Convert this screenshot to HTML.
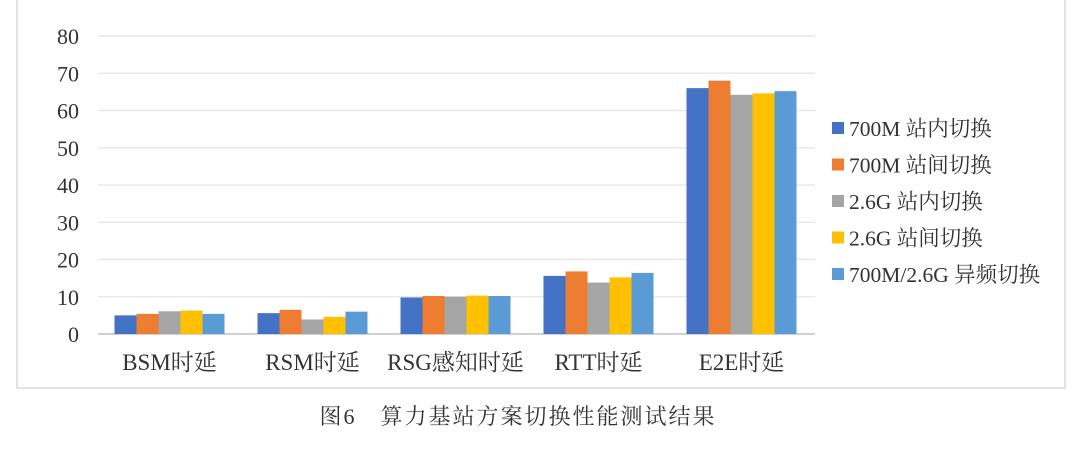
<!DOCTYPE html>
<html><head><meta charset="utf-8"><style>
body{margin:0;background:#fff;width:1080px;height:444px;overflow:hidden;font-family:"Liberation Serif","Noto Serif CJK SC",serif}
</style></head><body>
<svg width="1080" height="444" xmlns="http://www.w3.org/2000/svg">
<rect x="17" y="-2" width="1048" height="390" fill="#fff" stroke="#d9d9d9" stroke-width="1.5"/>
<g id="grid"></g><g id="bars"></g><g id="labels"></g><g id="legend"></g>
<text x="518" y="424" text-anchor="middle" font-size="22" letter-spacing="2" fill="#333" font-family="Liberation Serif, Noto Serif CJK SC, serif">图6　算力基站方案切换性能测试结果</text>
</svg>
<script>
const categories=["BSM时延","RSM时延","RSG感知时延","RTT时延","E2E时延"];
const seriesNames=["700M 站内切换","700M 站间切换","2.6G 站内切换","2.6G 站间切换","700M/2.6G 异频切换"];
const s1=[5.0,5.6,9.8,15.6,66.0];
const s2=[5.4,6.5,10.2,16.8,68.0];
const s3=[6.1,3.9,10.0,13.8,64.2];
const s4=[6.3,4.6,10.3,15.2,64.6];
const s5=[5.4,6.0,10.2,16.4,65.2];
const yTicks=[0,10,20,30,40,50,60,70,80];
const colors=["#4472c4","#ed7d31","#a5a5a5","#ffc000","#5b9bd5"];
const series=[s1,s2,s3,s4,s5];
const NS="http://www.w3.org/2000/svg";
const x0=98,x1=813,y0=334,yTop=36;
const y=v=>y0-(v/80)*(y0-yTop);
const bandW=(x1-x0)/categories.length, barW=22;
function mk(t,a,p){const e=document.createElementNS(NS,t);for(const k in a)e.setAttribute(k,a[k]);p.appendChild(e);return e;}
const G=document.getElementById('grid'),B=document.getElementById('bars'),L=document.getElementById('labels'),LG=document.getElementById('legend');
yTicks.forEach(t=>{
 const l=mk('line',{x1:x0,x2:x1+2,y1:y(t),y2:y(t),stroke:t===0?'#d0d0d0':'#e4e4e4','stroke-width':t===0?2:1.3},G);
 
 
 const tx=mk('text',{x:79,y:y(t)+8,'text-anchor':'end','font-size':22,fill:'#333'},G);
 tx.textContent=t;
 
 
});
categories.forEach((c,i)=>{
 const cx=x0+bandW*(i+0.5);
 series.forEach((s,j)=>{
  const r=mk('rect',{x:cx-barW*2.5+j*barW,y:y(s[i]),width:barW,height:y0-y(s[i]),fill:colors[j]},B);
  
  
 });
 const t=mk('text',{x:cx,y:370,'text-anchor':'middle','font-size':23,fill:'#333'},L);
 t.textContent=c;
 
 
});
seriesNames.forEach((n,j)=>{
 const yy=128+j*36.5;
 const r=mk('rect',{x:832,y:yy-6,width:12,height:12,fill:colors[j]},LG);
 
 
 const t=mk('text',{x:849,y:yy+8,'font-size':21.5,fill:'#333'},LG);
 t.textContent=n;
 
 
});
</script>
</body></html>
